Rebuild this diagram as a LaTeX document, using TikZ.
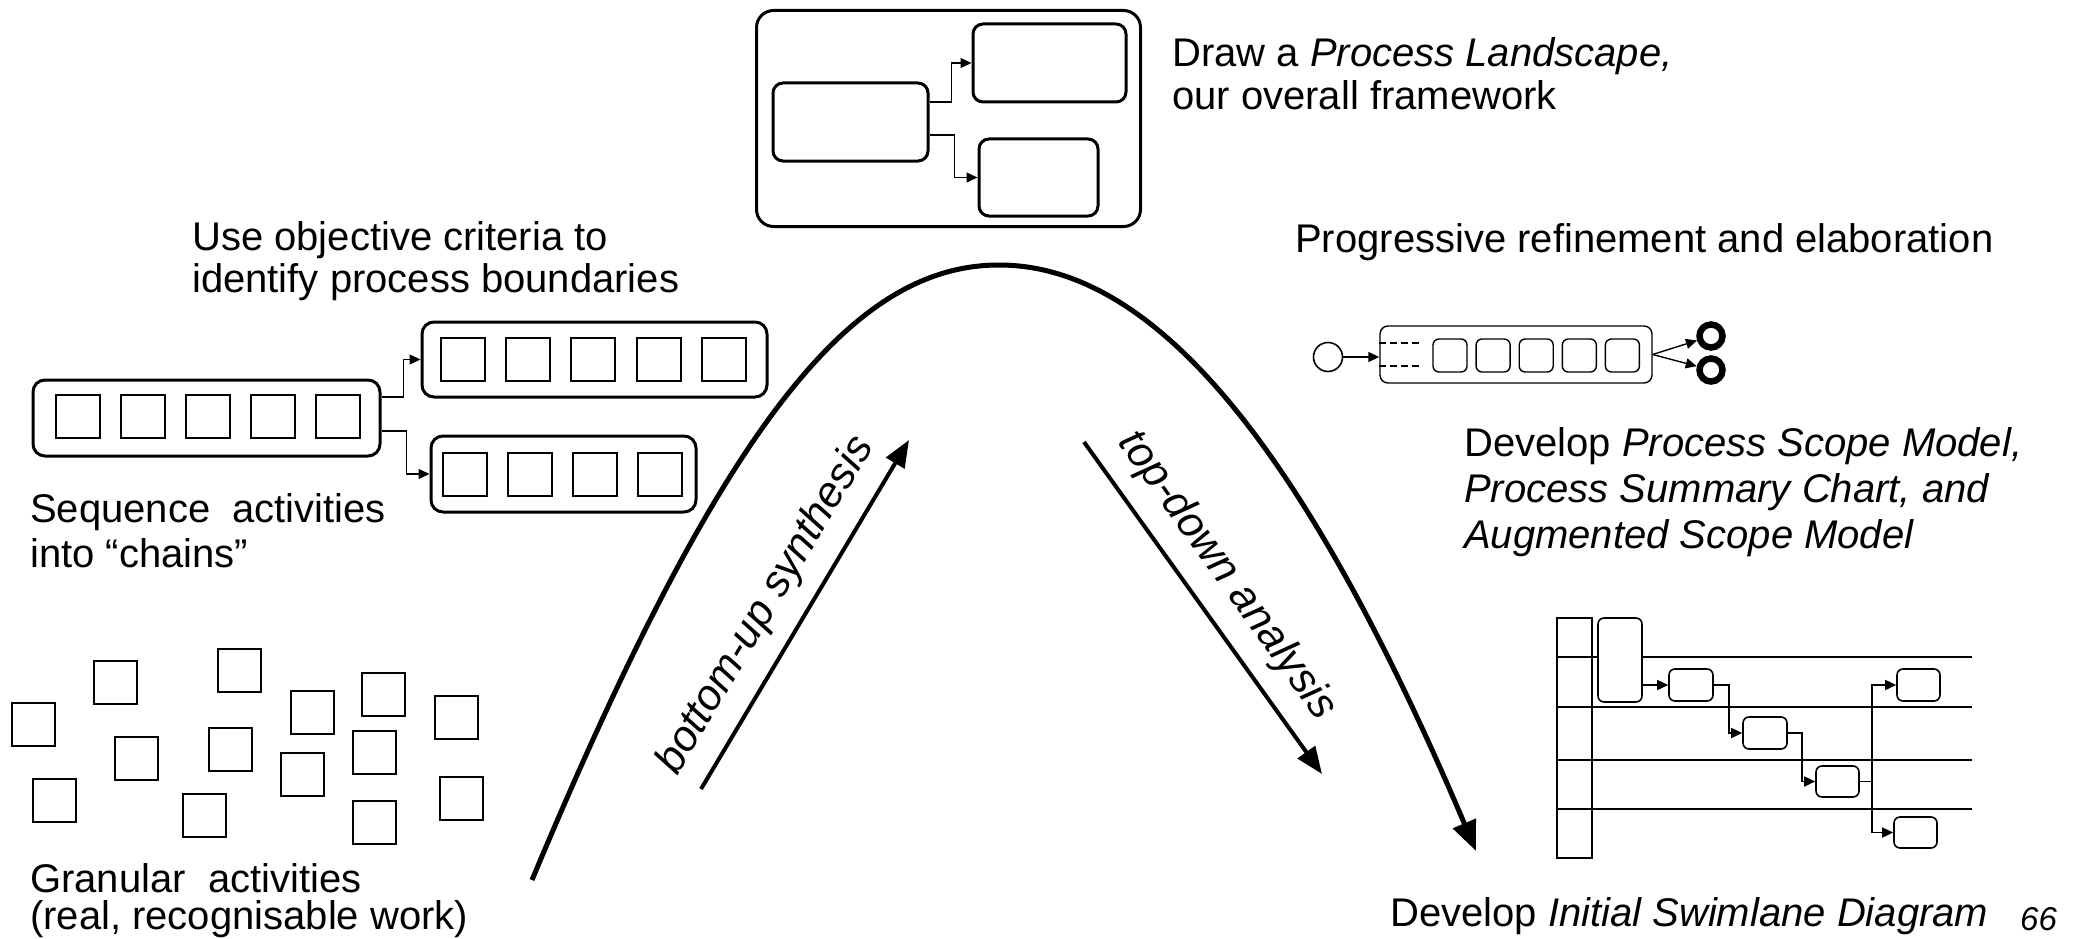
\documentclass[tikz,border=0pt]{standalone}
\usepackage{fontspec}
\setmainfont{Liberation Sans}
\usetikzlibrary{arrows.meta,calc}
\begin{document}
\begin{tikzpicture}[x=1pt,y=-1pt,
  txt/.style={anchor=base west,inner sep=0pt,font=\fontsize{40}{44}\selectfont},
  rbox/.style={draw,rounded corners=#1,inner sep=0pt,fill=white},
  thickb/.style={line width=3pt},
  thinb/.style={line width=1.4pt},
  sqr/.style={draw,line width=2pt,inner sep=0pt,minimum width=44pt,minimum height=43pt},
  gsq/.style={draw,line width=2pt},
  conn/.style={line width=1.4pt,-{Triangle[length=11pt,width=10pt]}},
  bigarrow/.style={line width=4pt,-{Triangle[length=27pt,width=21pt]}},
  slabel/.style={sloped,above,inner sep=16pt,font=\fontsize{43}{47}\selectfont\itshape},
  lane/.style={line width=1.6pt}]
\useasboundingbox (0,0) rectangle (2085,939);

% ---------- Process landscape ----------
\node[rbox=17pt,thickb,minimum width=384pt,minimum height=216pt] (LO) at (948.5,118.5) {};
\node[rbox=10pt,thickb,minimum width=155pt,minimum height=78pt] (L1) at (850.5,122) {};
\node[rbox=10pt,thickb,minimum width=153pt,minimum height=78pt] (L2) at (1049.5,63) {};
\node[rbox=10pt,thickb,minimum width=119pt,minimum height=77pt] (L3) at (1038.5,177.5) {};
\draw[conn] ($(L1.east)+(0,-20)$) -- ++(22,0) |- (L2.west);
\draw[conn] ($(L1.east)+(0,13)$) -- ++(25,0) |- (L3.west);
\node[txt] (tdraw1) at (1172,67) {Draw a \textit{Process Landscape,}};
\node[txt] (tdraw2) at (1172,110) {our overall framework};

% ---------- Chains ----------
\node[txt] (tuse1) at (192,250) {Use objective criteria to};
\node[txt] (tuse2) at (192,292) {identify process boundaries};
\node[rbox=12pt,thickb,minimum width=347pt,minimum height=76pt] (C1) at (206.5,418) {};
\foreach \i in {0,...,4} {\node[sqr] (c1s\i) at (78+65*\i,416) {};}
\node[rbox=12pt,thickb,minimum width=345pt,minimum height=75pt] (C2) at (594.5,359.5) {};
\foreach \i in {0,...,4} {\node[sqr] (c2s\i) at (463+65.2*\i,359) {};}
\node[rbox=12pt,thickb,minimum width=265pt,minimum height=76pt] (C3) at (563.5,474) {};
\foreach \i in {0,...,3} {\node[sqr] (c3s\i) at (465+65*\i,474) {};}
\draw[conn] ($(C1.east)+(0,-21)$) -- ++(22,0) |- (C2.west);
\draw[conn] ($(C1.east)+(0,13)$) -- ++(25,0) |- (C3.west);
\node[txt] (tseq1) at (30,522) {Sequence\ \ activities};
\node[txt] (tseq2) at (30,567) {into “chains”};

% ---------- Granular activities ----------
\foreach \x/\y in {12/703,94/661,218/649,291/691,362/673,435/696,115/737,209/728,281/753,353/731,33/779,183/794,353/801,440/777}
  {\draw[gsq] (\x,\y) rectangle ++(43,43);}
\node[txt] (tgran1) at (30,892) {Granular\ \ activities};
\node[txt] (tgran2) at (30,929) {(real, recognisable work)};

% ---------- Big curve ----------
\draw[line width=5pt,-{Triangle[length=30pt,width=24pt]}]
  (532,880) .. controls (720,430) and (850,265) .. (999,265)
            .. controls (1160,265) and (1310,460) .. (1476,851);
\coordinate (bu1) at (701,789);
\coordinate (bu2) at (909,440);
\draw[bigarrow] (bu1) -- node[pos=0.47,slabel] (lbu) {bottom-up synthesis} (bu2);
\coordinate (td1) at (1084,442);
\coordinate (td2) at (1322,774);
\draw[bigarrow] (td1) -- node[pos=0.47,slabel] (ltd) {top-down analysis} (td2);

% ---------- Progressive refinement ----------
\node[txt] (tprog) at (1295,252) {Progressive refinement and elaboration};
\node[draw,circle,line width=1.6pt,minimum size=29pt,inner sep=0pt] (S) at (1328,357) {};
\node[rbox=8pt,thinb,minimum width=272pt,minimum height=57pt] (R) at (1516,354.5) {};
\draw[thinb,dash pattern=on 7pt off 4pt] (R.west |- 0,343) -- ++(43,0);
\draw[thinb,dash pattern=on 7pt off 4pt] (R.west |- 0,366) -- ++(43,0);
\foreach \i in {0,...,4} {\node[rbox=6pt,thinb,minimum width=34pt,minimum height=33pt] (r\i) at (1450+43.1*\i,355.5) {};}
\draw[conn] (S) -- (R.west |- S);
\node[draw,circle,line width=6.5pt,minimum size=23pt,inner sep=0pt] (E1) at (1711,336) {};
\node[draw,circle,line width=6.5pt,minimum size=23pt,inner sep=0pt] (E2) at (1711,370) {};
\draw[conn] (R.east) -- (E1);
\draw[conn] (R.east) -- (E2);
\node[txt] (tdev1) at (1464,456) {Develop \textit{Process Scope Model,}};
\node[txt] (tdev2) at (1464,502) {\textit{Process Summary Chart, and}};
\node[txt] (tdev3) at (1464,548) {\textit{Augmented Scope Model}};

% ---------- Swimlane ----------
\foreach \y in {657,707,760,809} {\draw[lane] (1557,\y) -- (1972,\y);}
\node[draw,lane,inner sep=0pt,minimum width=35pt,minimum height=240pt] (COL) at (1574.5,738) {};
\node[rbox=6pt,lane,minimum width=44pt,minimum height=84pt] (T) at (1620,660) {};
\node[rbox=6pt,lane,minimum width=44pt,minimum height=32pt] (A) at (1691,685) {};
\node[rbox=6pt,lane,minimum width=44pt,minimum height=32pt] (B) at (1765,733) {};
\node[rbox=6pt,lane,minimum width=43pt,minimum height=31pt] (C) at (1837.5,781.5) {};
\node[rbox=6pt,lane,minimum width=43pt,minimum height=32pt] (D) at (1918.5,685) {};
\node[rbox=6pt,lane,minimum width=43pt,minimum height=31pt] (E) at (1915.5,832.5) {};
\draw[conn] ($(T.east)+(0,25)$) -- (A.west);
\draw[conn] (A.east) -- ++(15,0) |- (B.west);
\draw[conn] (B.east) -- ++(14,0) |- (C.west);
\draw[lane] (C.east) -- ++(12,0) coordinate (sp);
\draw[conn] (sp) |- (D.west);
\draw[conn] (sp) |- (E.west);
\node[txt] (tswim) at (1390,926) {Develop \textit{Initial Swimlane Diagram}};
\node[anchor=base west,inner sep=0pt,font=\fontsize{33}{36}\selectfont\itshape] (tnum) at (2020,930) {66};
\end{tikzpicture}
\end{document}
